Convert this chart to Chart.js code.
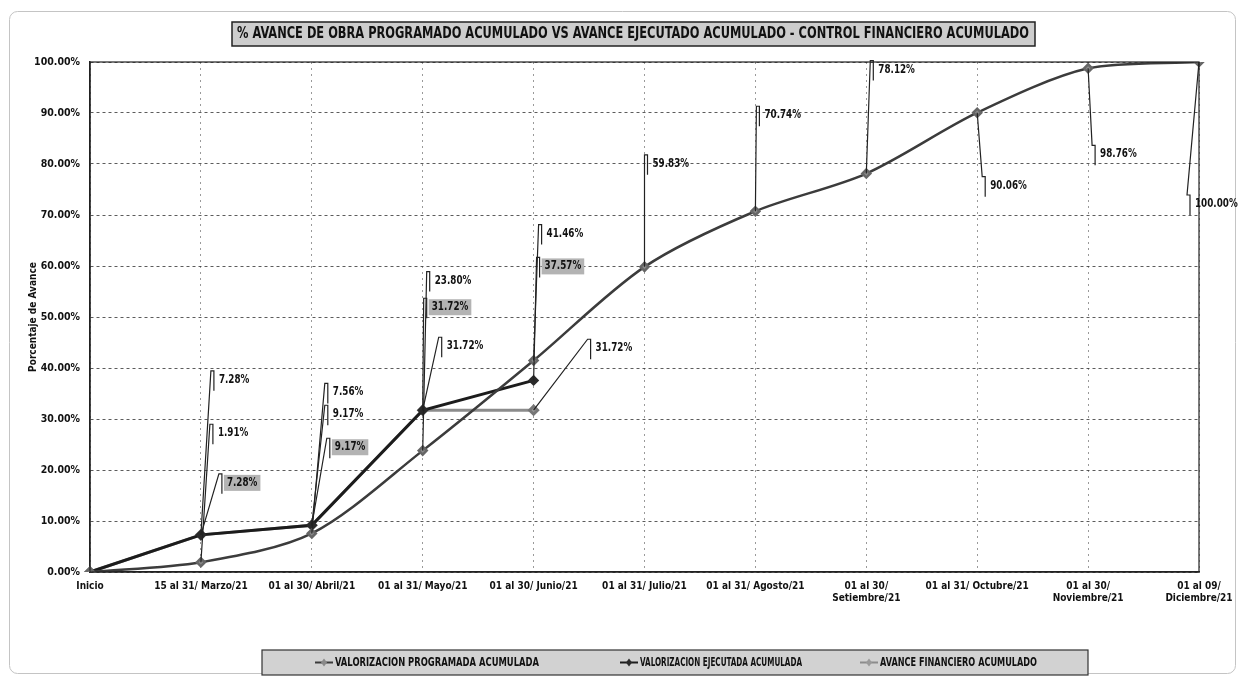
<!DOCTYPE html>
<html>
<head>
<meta charset="utf-8">
<script src="https://cdn.jsdelivr.net/npm/chart.js@4.4.0/dist/chart.umd.min.js"></script>
<style>
  html, body { margin: 0; padding: 0; background: #fff; }
</style>
</head>
<body>
<canvas id="myChart" width="1243" height="679"></canvas>
<script>
var FONT = '"Liberation Sans Narrow", "Arial Narrow", "DejaVu Sans Condensed", sans-serif';

var categories = [
  "Inicio",
  "15 al 31/ Marzo/21",
  "01 al 30/ Abril/21",
  "01 al 31/ Mayo/21",
  "01 al 30/ Junio/21",
  "01 al 31/ Julio/21",
  "01 al 31/ Agosto/21",
  ["01 al 30/", "Setiembre/21"],
  "01 al 31/ Octubre/21",
  ["01 al 30/", "Noviembre/21"],
  ["01 al 09/", "Diciembre/21"],
];
var programado = [0, 1.91, 7.56, 23.8, 41.46, 59.83, 70.74, 78.12, 90.06, 98.76, 100];
var ejecutado = [0, 7.28, 9.17, 31.72, 37.57, null, null, null, null, null, null];
var financiero = [0, 7.28, 9.17, 31.72, 31.72, null, null, null, null, null, null];

var seriesNames = [
  "VALORIZACION PROGRAMADA ACUMULADA",
  "VALORIZACION EJECUTADA ACUMULADA",
  "AVANCE FINANCIERO ACUMULADO",
];
var chartTitle = "% AVANCE DE OBRA PROGRAMADO ACUMULADO VS AVANCE EJECUTADO ACUMULADO - CONTROL FINANCIERO ACUMULADO";

// where each data label sits, relative to its point (px)
var labelOffsets = [
  [null, [17, -129], [21, -141], [12, -170], [13, -127], [8, -103], [9, -96], [12, -104], [13, 73], [12, 86], [-4, 142]],
  [null, [26, -52], [23, -78], [9, -103], [11, -114]],
  [null, [18, -155], [21, -111], [24, -64], [62, -62]],
];
var labelShaded = [false, true, false];

// legend layout: symbol x and text width of each entry
var legendX = [315, 620, 860];
var legendW = [204, 162, 157];

// squeeze text sideways, the fonts here are wider than the original narrow face
function narrowText(ctx, text, x, y, sx, align) {
  var w = ctx.measureText(text).width * sx;
  var left = x;
  if (align === "center") left = x - w / 2;
  ctx.save();
  ctx.textAlign = "left";
  ctx.translate(left, y);
  ctx.scale(sx, 1);
  ctx.fillText(text, 0, 0);
  ctx.restore();
  return w;
}

var decor = {
  id: "decor",
  beforeDraw: function (chart) {
    var ctx = chart.ctx;
    ctx.save();
    ctx.fillStyle = "#fff";
    ctx.fillRect(0, 0, chart.width, chart.height);
    // outer frame
    ctx.strokeStyle = "#c4c4c4";
    ctx.lineWidth = 1;
    ctx.beginPath();
    ctx.roundRect(9.5, 11.5, 1226, 662, 8);
    ctx.stroke();
    // title box
    ctx.fillStyle = "#cdcdcd";
    ctx.fillRect(232, 22, 803, 24);
    ctx.strokeStyle = "#222";
    ctx.lineWidth = 1.5;
    ctx.strokeRect(232, 22, 803, 24);
    ctx.fillStyle = "#111";
    ctx.font = "bold 15px " + FONT;
    ctx.textBaseline = "middle";
    var tw = ctx.measureText(chartTitle).width;
    narrowText(ctx, chartTitle, 633, 34.5, 792 / tw, "center");
    ctx.restore();
  },
  afterDatasetsDraw: function (chart) {
    var ctx = chart.ctx;
    var a = chart.chartArea;
    ctx.save();
    ctx.strokeStyle = "#222";
    ctx.lineWidth = 1.2;
    ctx.strokeRect(a.left, a.top, a.right - a.left, a.bottom - a.top);

    ctx.font = "bold 11.5px " + FONT;
    ctx.textBaseline = "middle";
    chart.data.datasets.forEach(function (ds, i) {
      var meta = chart.getDatasetMeta(i);
      meta.data.forEach(function (pt, j) {
        var v = ds.data[j];
        var off = labelOffsets[i][j];
        if (v == null || !off) return;
        var tx = pt.x + off[0];
        var ty = pt.y + off[1];
        var text = v.toFixed(2) + "%";
        var w = ctx.measureText(text).width * 0.85;
        var bx = tx - 8;
        ctx.strokeStyle = "#222";
        ctx.lineWidth = 1.2;
        ctx.beginPath();
        ctx.moveTo(pt.x, pt.y);
        ctx.lineTo(bx, ty - 9);
        ctx.lineTo(bx + 3, ty - 9);
        ctx.lineTo(bx + 3, ty + 11);
        ctx.stroke();
        if (labelShaded[i]) {
          ctx.fillStyle = "#b3b3b3";
          ctx.fillRect(tx - 3, ty - 8, w + 6, 16);
        }
        ctx.fillStyle = "#111";
        narrowText(ctx, text, tx, ty, 0.85, "left");
      });
    });
    ctx.restore();
  },
  afterDraw: function (chart) {
    var ctx = chart.ctx;
    ctx.save();
    ctx.fillStyle = "#d2d2d2";
    ctx.fillRect(262, 650, 826, 25);
    ctx.strokeStyle = "#333";
    ctx.lineWidth = 1.2;
    ctx.strokeRect(262, 650, 826, 25);
    ctx.font = "bold 12px " + FONT;
    ctx.textBaseline = "middle";
    chart.data.datasets.forEach(function (ds, i) {
      var x = legendX[i], y = 662.5;
      ctx.strokeStyle = ds.borderColor;
      ctx.lineWidth = 2;
      ctx.beginPath();
      ctx.moveTo(x, y);
      ctx.lineTo(x + 18, y);
      ctx.stroke();
      ctx.fillStyle = ds.pointBackgroundColor;
      ctx.beginPath();
      ctx.moveTo(x + 9, y - 4);
      ctx.lineTo(x + 12, y);
      ctx.lineTo(x + 9, y + 4);
      ctx.lineTo(x + 6, y);
      ctx.closePath();
      ctx.fill();
      ctx.fillStyle = "#111";
      var tw = ctx.measureText(ds.label).width;
      narrowText(ctx, ds.label, x + 20, y, legendW[i] / tw, "left");
    });
    ctx.restore();
  },
};

Chart.defaults.font.family = FONT;

var ctx = document.getElementById("myChart").getContext("2d");
var myChart = new Chart(ctx, {
  type: "line",
  data: {
    labels: categories,
    datasets: [
      {
        label: seriesNames[0],
        data: programado,
        borderColor: "#3c3c3c",
        borderWidth: 2.5,
        tension: 0.3,
        pointStyle: "rectRot",
        pointRadius: 4,
        pointBackgroundColor: "#8a8a8a",
        pointBorderColor: "#666",
      },
      {
        label: seriesNames[1],
        data: ejecutado,
        borderColor: "#1c1c1c",
        borderWidth: 3,
        tension: 0,
        pointStyle: "rectRot",
        pointRadius: 3.5,
        pointBackgroundColor: "#2a2a2a",
        pointBorderColor: "#2a2a2a",
      },
      {
        label: seriesNames[2],
        data: financiero,
        borderColor: "#8c8c8c",
        borderWidth: 3,
        tension: 0,
        pointStyle: "rectRot",
        pointRadius: 4,
        pointBackgroundColor: "#9a9a9a",
        pointBorderColor: "#777",
      },
    ],
  },
  options: {
    responsive: false,
    animation: false,
    layout: { padding: { left: 10, right: 44, top: 62, bottom: 57 } },
    scales: {
      x: {
        offset: false,
        grid: { color: "#9a9a9a", lineWidth: 1, drawTicks: false },
        border: { color: "#222", width: 1.5, dash: [2, 4] },
        ticks: {
          color: "#111",
          font: { size: 10, weight: "bold" },
          padding: 8,
          maxRotation: 0,
          autoSkip: false,
        },
        afterFit: function (s) {
          s.height = 50;
        },
      },
      y: {
        min: 0,
        max: 100,
        grid: { color: "#333", lineWidth: 0.8, drawTicks: false },
        border: { color: "#222", width: 1.5, dash: [3, 3] },
        ticks: {
          stepSize: 10,
          color: "#111",
          font: { size: 10.5, weight: "bold" },
          padding: 10,
          callback: function (v) {
            return v.toFixed(2) + "%";
          },
        },
        title: {
          display: true,
          text: "Porcentaje de Avance",
          color: "#111",
          font: { size: 10, weight: "bold" },
          padding: { top: 17, bottom: 0 },
        },
        afterFit: function (s) {
          s.width = 80;
        },
      },
    },
    plugins: {
      legend: { display: false },
      title: { display: false },
      tooltip: { enabled: false },
    },
  },
  plugins: [decor],
});
</script>
</body>
</html>
